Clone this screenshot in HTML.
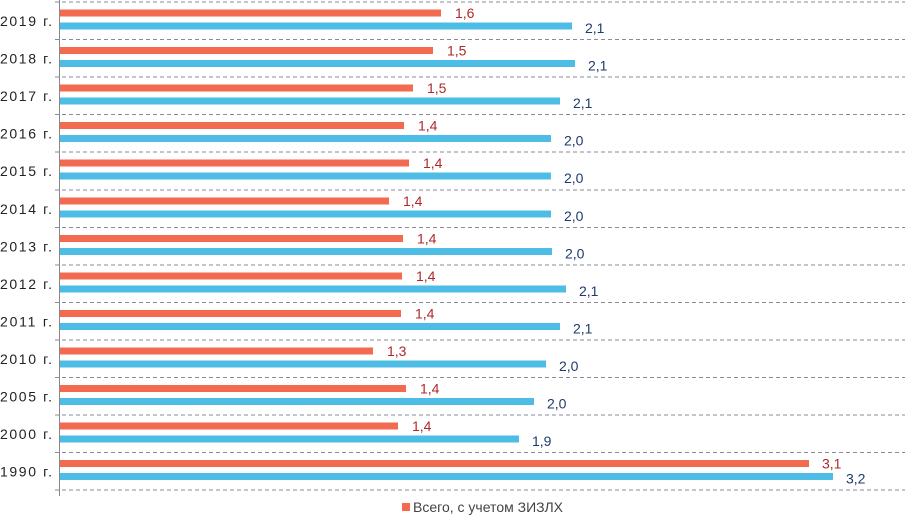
<!DOCTYPE html>
<html><head><meta charset="utf-8"><style>
body{margin:0;background:#fff;}
svg text{font-family:"Liberation Sans",sans-serif;font-size:14px;}
.r{fill:#f26a50}.b{fill:#4dbde6}.rt{fill:#b0282a}.bt{fill:#1f3a6e}.y{fill:#222}
.d{stroke:#8a8a9a;stroke-dasharray:4,3;stroke-width:1}
</style></head><body>
<svg width="905" height="516" xmlns="http://www.w3.org/2000/svg">
<g class="d">
<line x1="55" y1="2" x2="905" y2="2"/><line x1="55" y1="39.5" x2="905" y2="39.5"/><line x1="55" y1="77" x2="905" y2="77"/><line x1="55" y1="114.5" x2="905" y2="114.5"/><line x1="55" y1="152" x2="905" y2="152"/><line x1="55" y1="190" x2="905" y2="190"/><line x1="55" y1="227.5" x2="905" y2="227.5"/><line x1="55" y1="265" x2="905" y2="265"/><line x1="55" y1="302.5" x2="905" y2="302.5"/><line x1="55" y1="340" x2="905" y2="340"/><line x1="55" y1="377.5" x2="905" y2="377.5"/><line x1="55" y1="415" x2="905" y2="415"/><line x1="55" y1="452.5" x2="905" y2="452.5"/><line x1="55" y1="490" x2="905" y2="490"/>
</g>
<line x1="59.5" y1="0" x2="59.5" y2="496" stroke="#888" stroke-width="1"/>

<g transform="translate(0,2)"><rect class="r" x="60" y="7.5" width="381" height="7"/><rect class="b" x="60" y="20.5" width="512" height="7"/><text class="rt" x="455" y="16">1,6</text><text class="bt" x="585" y="31">2,1</text><text class="y" x="0" y="24" textLength="52">2019 г.</text></g>
<g transform="translate(0,39.5)"><rect class="r" x="60" y="7.5" width="373" height="7"/><rect class="b" x="60" y="20.5" width="515" height="7"/><text class="rt" x="447" y="16">1,5</text><text class="bt" x="588" y="31">2,1</text><text class="y" x="0" y="24" textLength="52">2018 г.</text></g>
<g transform="translate(0,77)"><rect class="r" x="60" y="7.5" width="353" height="7"/><rect class="b" x="60" y="20.5" width="500" height="7"/><text class="rt" x="427" y="16">1,5</text><text class="bt" x="573" y="31">2,1</text><text class="y" x="0" y="24" textLength="52">2017 г.</text></g>
<g transform="translate(0,114.5)"><rect class="r" x="60" y="7.5" width="344" height="7"/><rect class="b" x="60" y="20.5" width="491" height="7"/><text class="rt" x="418" y="16">1,4</text><text class="bt" x="564" y="31">2,0</text><text class="y" x="0" y="24" textLength="52">2016 г.</text></g>
<g transform="translate(0,152)"><rect class="r" x="60" y="7.5" width="349" height="7"/><rect class="b" x="60" y="20.5" width="491" height="7"/><text class="rt" x="423" y="16">1,4</text><text class="bt" x="564" y="31">2,0</text><text class="y" x="0" y="24" textLength="52">2015 г.</text></g>
<g transform="translate(0,190)"><rect class="r" x="60" y="7.5" width="329" height="7"/><rect class="b" x="60" y="20.5" width="491" height="7"/><text class="rt" x="403" y="16">1,4</text><text class="bt" x="564" y="31">2,0</text><text class="y" x="0" y="24" textLength="52">2014 г.</text></g>
<g transform="translate(0,227.5)"><rect class="r" x="60" y="7.5" width="343" height="7"/><rect class="b" x="60" y="20.5" width="492" height="7"/><text class="rt" x="417" y="16">1,4</text><text class="bt" x="565" y="31">2,0</text><text class="y" x="0" y="24" textLength="52">2013 г.</text></g>
<g transform="translate(0,265)"><rect class="r" x="60" y="7.5" width="342" height="7"/><rect class="b" x="60" y="20.5" width="506" height="7"/><text class="rt" x="416" y="16">1,4</text><text class="bt" x="579" y="31">2,1</text><text class="y" x="0" y="24" textLength="52">2012 г.</text></g>
<g transform="translate(0,302.5)"><rect class="r" x="60" y="7.5" width="341" height="7"/><rect class="b" x="60" y="20.5" width="500" height="7"/><text class="rt" x="415" y="16">1,4</text><text class="bt" x="573" y="31">2,1</text><text class="y" x="0" y="24" textLength="52">2011 г.</text></g>
<g transform="translate(0,340)"><rect class="r" x="60" y="7.5" width="313" height="7"/><rect class="b" x="60" y="20.5" width="486" height="7"/><text class="rt" x="387" y="16">1,3</text><text class="bt" x="559" y="31">2,0</text><text class="y" x="0" y="24" textLength="52">2010 г.</text></g>
<g transform="translate(0,377.5)"><rect class="r" x="60" y="7.5" width="346" height="7"/><rect class="b" x="60" y="20.5" width="474" height="7"/><text class="rt" x="420" y="16">1,4</text><text class="bt" x="547" y="31">2,0</text><text class="y" x="0" y="24" textLength="52">2005 г.</text></g>
<g transform="translate(0,415)"><rect class="r" x="60" y="7.5" width="338" height="7"/><rect class="b" x="60" y="20.5" width="459" height="7"/><text class="rt" x="412" y="16">1,4</text><text class="bt" x="532" y="31">1,9</text><text class="y" x="0" y="24" textLength="52">2000 г.</text></g>
<g transform="translate(0,452.5)"><rect class="r" x="60" y="7.5" width="749" height="7"/><rect class="b" x="60" y="20.5" width="773" height="7"/><text class="rt" x="822" y="16">3,1</text><text class="bt" x="846" y="31">3,2</text><text class="y" x="0" y="24" textLength="52">1990 г.</text></g>

<rect x="402" y="503" width="8" height="8" fill="#f26a50"/>
<text x="413" y="512" fill="#444" textLength="150">Всего, с учетом ЗИЗЛХ</text>
</svg>
</body></html>
